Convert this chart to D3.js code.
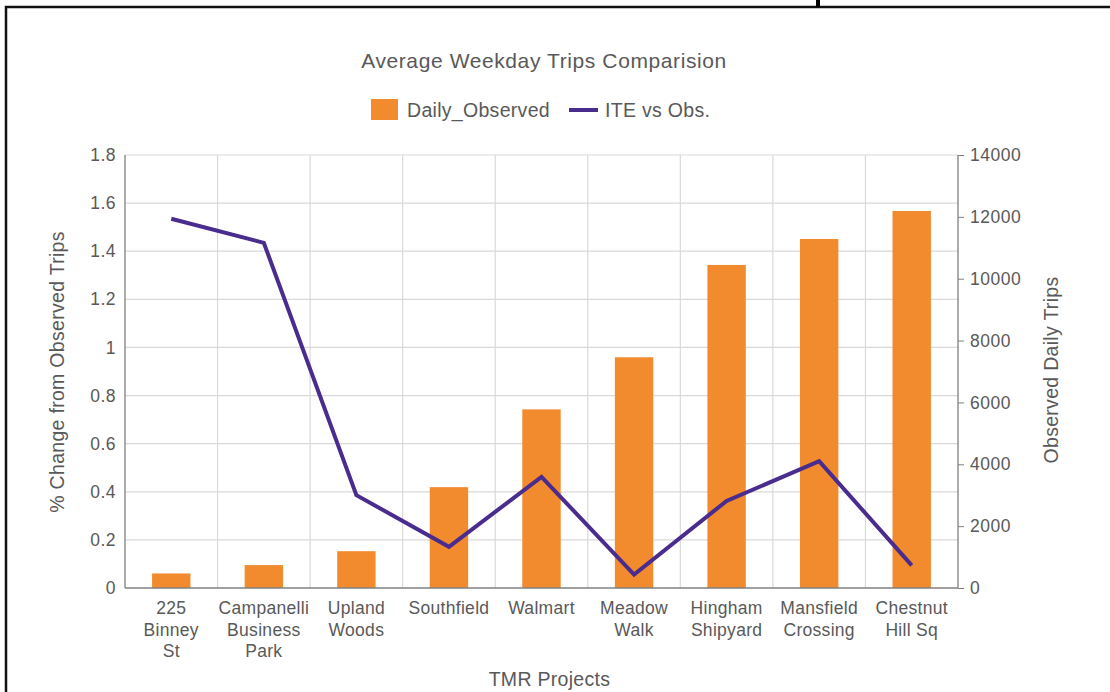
<!DOCTYPE html>
<html><head><meta charset="utf-8">
<script src="https://cdn.jsdelivr.net/npm/d3@7"></script>
<style>
html,body{margin:0;padding:0;background:#fff;}
svg{display:block;font-family:"Liberation Sans",Arial,sans-serif;}
</style></head>
<body>
<svg id="c" width="1110" height="692"></svg>
<script>
const categories = [
  ["225","Binney","St"],
  ["Campanelli","Business","Park"],
  ["Upland","Woods"],
  ["Southfield"],
  ["Walmart"],
  ["Meadow","Walk"],
  ["Hingham","Shipyard"],
  ["Mansfield","Crossing"],
  ["Chestnut","Hill Sq"]
];
const dailyObserved = [470, 740, 1190, 3260, 5775, 7460, 10445, 11285, 12190];
const iteVsObs = [1.535, 1.435, 0.386, 0.171, 0.462, 0.056, 0.362, 0.527, 0.094];
const leftTicks = [0,0.2,0.4,0.6,0.8,1,1.2,1.4,1.6,1.8];
const rightTicks = [0,2000,4000,6000,8000,10000,12000,14000];

const svg = d3.select("#c");
const M = {l:125, r:958, t:155, b:588};
const textCol = "#595959", gridCol = "#d9d9d9", axisCol = "#808080";
const barCol = "#F28A2E", lineCol = "#4A2C8F";

// frame (cropped page border)
svg.append("rect").attr("x",6).attr("y",7).attr("width",1200).attr("height",800)
  .attr("fill","none").attr("stroke","#111").attr("stroke-width",2.5);
svg.append("rect").attr("x",816).attr("y",0).attr("width",4).attr("height",7).attr("fill","#000");

const keys = categories.map(d=>d.join(" "));
const x = d3.scaleBand().domain(keys).range([M.l,M.r]).padding(0);
const yL = d3.scaleLinear().domain([0,1.8]).range([M.b,M.t]);
const yR = d3.scaleLinear().domain([0,14000]).range([M.b,M.t]);

// grid
svg.append("g").selectAll("line").data(leftTicks.slice(1)).join("line")
  .attr("x1",M.l).attr("x2",M.r).attr("y1",d=>yL(d)).attr("y2",d=>yL(d))
  .attr("stroke",gridCol).attr("stroke-width",1.2);
svg.append("g").selectAll("line").data(keys.slice(1)).join("line")
  .attr("x1",d=>x(d)).attr("x2",d=>x(d)).attr("y1",M.t).attr("y2",M.b)
  .attr("stroke",gridCol).attr("stroke-width",1.2);

// bars
const bw = x.bandwidth()*0.415;
svg.append("g").selectAll("rect").data(dailyObserved).join("rect")
  .attr("x",(d,i)=>x(keys[i])+x.bandwidth()/2-bw/2)
  .attr("width",bw)
  .attr("y",d=>yR(d)).attr("height",d=>M.b-yR(d))
  .attr("fill",barCol);

// line
const line = d3.line().x((d,i)=>x(keys[i])+x.bandwidth()/2).y(d=>yL(d));
svg.append("path").datum(iteVsObs).attr("d",line).attr("fill","none")
  .attr("stroke",lineCol).attr("stroke-width",4).attr("stroke-linejoin","miter");

// axes lines
svg.append("line").attr("x1",M.l).attr("x2",M.l).attr("y1",M.t).attr("y2",M.b).attr("stroke",axisCol).attr("stroke-width",1.3);
svg.append("line").attr("x1",M.r).attr("x2",M.r).attr("y1",M.t).attr("y2",M.b).attr("stroke",axisCol).attr("stroke-width",1.3);
svg.append("line").attr("x1",M.l).attr("x2",M.r).attr("y1",M.b).attr("y2",M.b).attr("stroke",axisCol).attr("stroke-width",1.3);

// left tick labels
const fmtL = d=> d===0?"0":(d===1?"1":d3.format(".1f")(d));
svg.append("g").selectAll("text").data(leftTicks).join("text")
  .attr("x",M.l-9).attr("y",d=>yL(d)).attr("dy","0.35em").attr("text-anchor","end")
  .attr("font-size",17.5).attr("letter-spacing",0.5).attr("fill",textCol).text(fmtL);

// right axis
const gR = svg.append("g").attr("transform",`translate(${M.r},0)`)
  .call(d3.axisRight(yR).tickValues(rightTicks).tickSize(6).tickPadding(6).tickFormat(d3.format("d")));
gR.select(".domain").remove();
gR.selectAll("line").attr("stroke",axisCol);
gR.selectAll("text").attr("font-size",17.5).attr("letter-spacing",0.5).attr("fill",textCol)
  .attr("font-family","Liberation Sans, Arial, sans-serif");

// x labels
const xl = svg.append("g").selectAll("text").data(categories).join("text")
  .attr("text-anchor","middle").attr("font-size",17.5).attr("letter-spacing",0.3).attr("fill",textCol);
xl.each(function(d,i){
  const t = d3.select(this);
  d.forEach((s,j)=>{
    t.append("tspan").attr("x",x(keys[i])+x.bandwidth()/2).attr("y",614+j*21.5).text(s);
  });
});

// axis titles
svg.append("text").attr("x",(M.l+M.r)/2+8).attr("y",686).attr("text-anchor","middle")
  .attr("font-size",19.5).attr("letter-spacing",0.3).attr("fill",textCol).text("TMR Projects");
svg.append("text").attr("transform",`translate(64,372) rotate(-90)`).attr("text-anchor","middle")
  .attr("font-size",19.5).attr("letter-spacing",0.3).attr("fill",textCol).text("% Change from Observed Trips");
svg.append("text").attr("transform",`translate(1058,370) rotate(-90)`).attr("text-anchor","middle")
  .attr("font-size",19.5).attr("letter-spacing",0.3).attr("fill",textCol).text("Observed Daily Trips");

// title
svg.append("text").attr("x",544).attr("y",68).attr("text-anchor","middle")
  .attr("font-size",21).attr("letter-spacing",0.6).attr("fill",textCol).text("Average Weekday Trips Comparision");

// legend
svg.append("rect").attr("x",371).attr("y",99).attr("width",27).attr("height",21).attr("fill",barCol);
svg.append("text").attr("x",407).attr("y",110).attr("dy","0.35em").attr("font-size",19.5).attr("letter-spacing",0.3).attr("fill",textCol).text("Daily_Observed");
svg.append("line").attr("x1",569).attr("x2",598).attr("y1",110).attr("y2",110).attr("stroke",lineCol).attr("stroke-width",4);
svg.append("text").attr("x",605).attr("y",110).attr("dy","0.35em").attr("font-size",19.5).attr("letter-spacing",0.3).attr("fill",textCol).text("ITE vs Obs.");
</script>
</body></html>
